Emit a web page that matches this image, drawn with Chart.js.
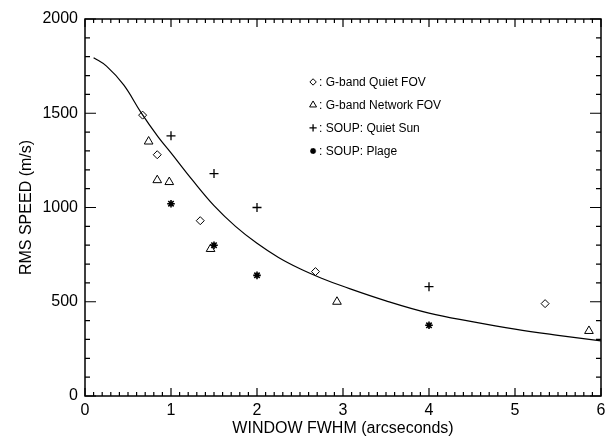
<!DOCTYPE html>
<html><head><meta charset="utf-8">
<script src="https://cdn.jsdelivr.net/npm/chart.js@4/dist/chart.umd.min.js"></script>
<style>html,body{margin:0;padding:0;background:#fff}</style>
</head><body>
<canvas id="c" width="611" height="438" style="width:611px;height:438px;display:block"></canvas>
<script>
// ---- data ----
const quietFovX   = [0.67, 0.84, 1.34, 2.68, 5.35];
const quietFovY   = [1490, 1280, 930, 660, 490];
const networkFovX = [0.74, 0.84, 0.98, 1.46, 2.93, 5.86];
const networkFovY = [1350, 1145, 1135, 780, 500, 345];
const soupQuietX  = [1.0, 1.5, 2.0, 4.0];
const soupQuietY  = [1380, 1180, 1000, 580];
const soupPlageX  = [1.0, 1.5, 2.0, 4.0];
const soupPlageY  = [1020, 800, 640, 375];
const fitX = [0.1, 0.25, 0.45, 0.65, 0.85, 1.0, 1.25, 1.5, 1.75, 2.0, 2.25, 2.5, 2.75, 3.0, 3.5, 4.0, 4.5, 5.0, 5.5, 6.0];
const fitY = [1795, 1750, 1650, 1505, 1375, 1290, 1145, 1010, 900, 810, 735, 675, 625, 582, 505, 440, 395, 355, 322, 292];
const xTickValues = [0, 1, 2, 3, 4, 5, 6];
const yTickValues = [0, 500, 1000, 1500, 2000];
const legendLabels = [': G-band Quiet FOV', ': G-band Network FOV', ': SOUP: Quiet Sun', ': SOUP: Plage'];
const xTitle = 'WINDOW FWHM (arcseconds)';
const yTitle = 'RMS SPEED (m/s)';

const pts = (xs, ys) => xs.map((x, i) => ({x, y: ys[i]}));
const FONT = '"Liberation Sans", Arial, Helvetica, sans-serif';

const styles = [
  {pointStyle: 'rectRot', radius: 4, borderWidth: 1},
  {pointStyle: 'triangle', radius: 5, borderWidth: 1},
  {pointStyle: 'cross', radius: 4.5, borderWidth: 1.3},
  {pointStyle: 'star', radius: 3.8, borderWidth: 1.6}
];

function drawSym(ctx, st, x, y) {
  const o = {pointStyle: st.pointStyle, radius: st.radius, borderWidth: st.borderWidth, rotation: 0};
  ctx.save();
  ctx.strokeStyle = '#000'; ctx.fillStyle = 'rgba(0,0,0,0)'; ctx.lineWidth = st.borderWidth;
  Chart.helpers.drawPoint(ctx, o, x, y);
  ctx.restore();
}

const framePlugin = {
  id: 'frame',
  afterDraw(chart) {
    const {ctx, chartArea: a, scales: {x, y}} = chart;
    ctx.save();
    ctx.strokeStyle = '#000';
    ctx.lineWidth = 1.5;
    ctx.strokeRect(a.left, a.top, a.right - a.left, a.bottom - a.top);
    ctx.lineWidth = 1.2;
    ctx.beginPath();
    // x ticks: major every 1, minor every 0.1
    for (let i = 0; i <= 60; i++) {
      const px = x.getPixelForValue(i / 10);
      const len = (i % 10 === 0) ? 8 : 4;
      ctx.moveTo(px, a.bottom); ctx.lineTo(px, a.bottom - len);
      ctx.moveTo(px, a.top); ctx.lineTo(px, a.top + len);
    }
    // y ticks: major every 500, minor every 100
    for (let i = 0; i <= 20; i++) {
      const py = y.getPixelForValue(i * 100);
      const len = (i % 5 === 0) ? 11 : 5;
      ctx.moveTo(a.left, py); ctx.lineTo(a.left + len, py);
      ctx.moveTo(a.right, py); ctx.lineTo(a.right - len, py);
    }
    ctx.stroke();
    // inner legend
    const lx = a.left + 0.442 * (a.right - a.left);
    const rows = [0.167, 0.228, 0.289, 0.350];
    ctx.font = '12px ' + FONT;
    ctx.fillStyle = '#000';
    ctx.textBaseline = 'middle';
    ctx.textAlign = 'left';
    rows.forEach((r, i) => {
      const ly = a.top + r * (a.bottom - a.top);
      const st = Object.assign({}, styles[i], {radius: styles[i].radius * 0.8});
      drawSym(ctx, st, lx, ly);
      ctx.fillText(legendLabels[i], lx + 6, ly + 0.5);
    });
    ctx.restore();
  }
};

const mk = (label, data, st) => ({
  type: 'scatter', label, data,
  pointStyle: st.pointStyle, pointRadius: st.radius, pointBorderWidth: st.borderWidth,
  pointBorderColor: '#000', pointBackgroundColor: 'rgba(0,0,0,0)',
  pointHoverRadius: st.radius, showLine: false
});

new Chart(document.getElementById('c'), {
  data: {
    datasets: [
      {type: 'line', label: 'fit', data: pts(fitX, fitY), borderColor: '#000', borderWidth: 1.2,
       pointRadius: 0, fill: false, tension: 0.4},
      mk('G-band Quiet FOV', pts(quietFovX, quietFovY), styles[0]),
      mk('G-band Network FOV', pts(networkFovX, networkFovY), styles[1]),
      mk('SOUP: Quiet Sun', pts(soupQuietX, soupQuietY), styles[2]),
      mk('SOUP: Plage', pts(soupPlageX, soupPlageY), styles[3])
    ]
  },
  options: {
    responsive: false, animation: false, devicePixelRatio: 1,
    layout: {padding: {left: 0, top: 19, right: 10, bottom: 0}},
    plugins: {legend: {display: false}, tooltip: {enabled: false}},
    scales: {
      x: {
        type: 'linear', min: 0, max: 6,
        afterBuildTicks: s => { s.ticks = xTickValues.map(v => ({value: v})); },
        afterFit: s => { s.height = 42; },
        grid: {display: false, drawTicks: false},
        border: {display: false},
        ticks: {color: '#000', font: {family: FONT, size: 16}, padding: 5, maxRotation: 0,
                callback: v => String(v)},
        title: {display: true, text: xTitle, color: '#000', font: {family: FONT, size: 16}, padding: {top: -1, bottom: 0}}
      },
      y: {
        type: 'linear', min: 0, max: 2000,
        afterBuildTicks: s => { s.ticks = yTickValues.map(v => ({value: v})); },
        afterFit: s => { s.width = 85; },
        grid: {display: false, drawTicks: false},
        border: {display: false},
        ticks: {color: '#000', font: {family: FONT, size: 16}, padding: 7, callback: v => String(v)},
        title: {display: true, text: yTitle, color: '#000', font: {family: FONT, size: 16}, padding: {top: 17, bottom: 0}}
      }
    }
  },
  plugins: [framePlugin]
});
</script>
</body></html>
